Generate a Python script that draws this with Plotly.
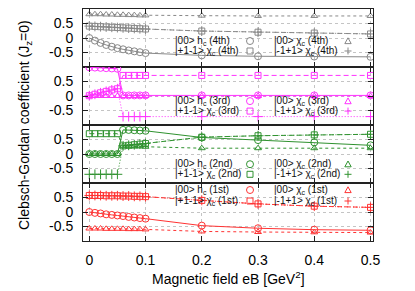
import plotly.graph_objects as go
from plotly.subplots import make_subplots

# ---------------- data ----------------
eB = [0.0, 0.01, 0.02, 0.03, 0.04, 0.05, 0.06, 0.07, 0.08, 0.09, 0.10, 0.2, 0.3, 0.4, 0.5]

# 4th state (grey)
hc00_4 = [0.0, -0.09, -0.17, -0.24, -0.30, -0.35, -0.39, -0.43, -0.46, -0.49, -0.52, -0.60, -0.63, -0.64, -0.65]
pm_4 = [0.41, 0.40, 0.39, 0.38, 0.37, 0.36, 0.35, 0.34, 0.33, 0.32, 0.31, 0.24, 0.20, 0.17, 0.14]
chi00_4 = [0.82, 0.82, 0.82, 0.81, 0.81, 0.80, 0.80, 0.79, 0.79, 0.78, 0.78, 0.77, 0.76, 0.76, 0.76]
mp_4 = [0.41, 0.40, 0.39, 0.38, 0.37, 0.36, 0.35, 0.34, 0.33, 0.32, 0.31, 0.24, 0.20, 0.17, 0.14]

# 3rd state (magenta)
hc00_3 = [0.99, 0.98, 0.97, 0.96, 0.95, 0.94, 0.02, 0.02, 0.02, 0.02, 0.02, 0.02, 0.02, 0.02, 0.02]
pm_3 = [0.01, 0.06, 0.11, 0.16, 0.21, 0.25, 0.71, 0.71, 0.71, 0.71, 0.71, 0.71, 0.71, 0.71, 0.71]
chi00_3 = [0.0, 0.0, 0.0, 0.0, 0.0, 0.0, 0.0, 0.0, 0.0, 0.0, 0.0, 0.0, 0.0, 0.0, 0.0]
mp_3 = [0.01, 0.06, 0.11, 0.16, 0.21, 0.25, -0.71, -0.71, -0.71, -0.71, -0.71, -0.71, -0.71, -0.71, -0.71]

# 2nd state (green)
hc00_2 = [0.0, 0.0, 0.0, 0.0, 0.0, 0.0, 0.83, 0.83, 0.82, 0.81, 0.80, 0.57, 0.48, 0.40, 0.30]
pm_2 = [0.70, 0.70, 0.70, 0.70, 0.70, 0.70, 0.28, 0.30, 0.32, 0.34, 0.36, 0.58, 0.63, 0.66, 0.68]
chi00_2 = [0.0, 0.0, 0.0, 0.0, 0.0, 0.0, 0.27, 0.27, 0.26, 0.26, 0.25, 0.20, 0.20, 0.20, 0.20]
mp_2 = [-0.70, -0.70, -0.70, -0.70, -0.70, -0.70, 0.28, 0.30, 0.32, 0.34, 0.36, 0.58, 0.63, 0.66, 0.68]

# 1st state (red)
hc00_1 = [0.0, -0.03, -0.05, -0.08, -0.10, -0.12, -0.14, -0.17, -0.19, -0.21, -0.23, -0.47, -0.56, -0.61, -0.63]
pm_1 = [0.57, 0.57, 0.57, 0.56, 0.56, 0.56, 0.55, 0.55, 0.54, 0.54, 0.53, 0.40, 0.28, 0.20, 0.16]
chi00_1 = [-0.57, -0.57, -0.57, -0.58, -0.58, -0.58, -0.58, -0.59, -0.59, -0.59, -0.60, -0.67, -0.69, -0.70, -0.71]
mp_1 = [0.57, 0.57, 0.57, 0.56, 0.56, 0.56, 0.55, 0.55, 0.54, 0.54, 0.53, 0.40, 0.28, 0.20, 0.16]

panel_names = ["4th", "3rd", "2nd", "1st"]
panel_series = [
    [hc00_4, pm_4, chi00_4, mp_4],
    [hc00_3, pm_3, chi00_3, mp_3],
    [hc00_2, pm_2, chi00_2, mp_2],
    [hc00_1, pm_1, chi00_1, mp_1],
]
series_labels = ["|00> h<sub>c</sub> ({})", "|+1-1> χ<sub>c</sub> ({})",
                 "|00> χ<sub>c</sub> ({})", "|-1+1> χ<sub>c</sub> ({})"]

x_ticks = [0, 0.1, 0.2, 0.3, 0.4, 0.5]
y_ticks = [-1, -0.5, 0, 0.5, 1]
y_tick_text = ["", "-0.5", "0", "0.5", ""]

# ---------------- styles ----------------
colors = ["#888888", "#ff33ff", "#2f922f", "#ff3333"]
styles = [("circle-open", 7, "solid"),
          ("square-open", 6, "5px,3px"),
          ("triangle-up-open", 6, "3px,3px"),
          ("cross-thin-open", 7, "1px,2px")]
FONT = "Liberation Sans, Arial, Helvetica, sans-serif"

fig = make_subplots(rows=4, cols=1, shared_xaxes=True, vertical_spacing=0)

for r, (series, col) in enumerate(zip(panel_series, colors), start=1):
    for (sym, size, dash), ys in zip(styles, series):
        fig.add_trace(go.Scatter(
            x=eB, y=ys, mode="lines+markers",
            line=dict(color=col, width=1, dash=dash),
            marker=dict(symbol=sym, size=size, color=col,
                        line=dict(color=col, width=1)),
            showlegend=False, hoverinfo="skip"), row=r, col=1)

axis_common = dict(ticks="inside", ticklen=5, tickcolor="#222", mirror="allticks",
                   showline=True, linecolor="#222", linewidth=1,
                   showgrid=True, gridcolor="#c4c4c4", griddash="dot", gridwidth=1,
                   zeroline=False, automargin=False,
                   tickfont=dict(size=14, color="black", family=FONT))

for r in range(1, 5):
    fig.update_xaxes(range=[-0.0112, 0.5044], tickvals=x_ticks,
                     ticktext=[f"{v:g}" for v in x_ticks],
                     showticklabels=(r == 4), ticklabelstandoff=6,
                     row=r, col=1, **axis_common)
    fig.update_yaxes(range=[-1, 1], tickvals=y_ticks, ticktext=y_tick_text,
                     ticklabelstandoff=6, row=r, col=1, **axis_common)

# ---------------- per-panel keys ----------------
key_rows = [(0.862, 0.819), (0.603, 0.560), (0.331, 0.2875), (0.2198, 0.1724)]
text_x = [0.3103, 0.6517]
sym_x = [0.5759, 0.9138]

annotations = []
shapes = []
for p, (name, col, rows) in enumerate(zip(panel_names, colors, key_rows)):
    slots = [(0, 0), (0, 1), (1, 0), (1, 1)]  # (column, row): circle, square, triangle, plus
    for k, (c, rr) in enumerate(slots):
        yy = rows[rr]
        annotations.append(dict(
            x=text_x[c], y=yy, xref="paper", yref="paper",
            xanchor="left", yanchor="middle", showarrow=False,
            text=series_labels[k].format(name),
            font=dict(size=10, color="#111", family=FONT)))
        sx = sym_x[c]
        if k == 0:
            shapes.append(dict(type="circle", xref="paper", yref="paper",
                               xsizemode="pixel", ysizemode="pixel",
                               xanchor=sx, yanchor=yy, x0=-3.5, x1=3.5, y0=-3.5, y1=3.5,
                               line=dict(color=col, width=1)))
        elif k == 1:
            shapes.append(dict(type="rect", xref="paper", yref="paper",
                               xsizemode="pixel", ysizemode="pixel",
                               xanchor=sx, yanchor=yy, x0=-3, x1=3, y0=-3, y1=3,
                               line=dict(color=col, width=1)))
        elif k == 2:
            shapes.append(dict(type="path", xref="paper", yref="paper",
                               xsizemode="pixel", ysizemode="pixel",
                               xanchor=sx, yanchor=yy,
                               path="M -3.2,-2.6 L 3.2,-2.6 L 0,3.2 Z",
                               line=dict(color=col, width=1)))
        else:
            shapes.append(dict(type="path", xref="paper", yref="paper",
                               xsizemode="pixel", ysizemode="pixel",
                               xanchor=sx, yanchor=yy,
                               path="M -3.5,0 L 3.5,0 M 0,-3.5 L 0,3.5",
                               line=dict(color=col, width=1)))

# axis titles
annotations.append(dict(x=0.5, y=-0.159, xref="paper", yref="paper",
                        xanchor="center", yanchor="middle", showarrow=False,
                        text="Magnetic field eB [GeV<sup>2</sup>]",
                        font=dict(size=14, color="black", family=FONT)))
annotations.append(dict(x=-0.2, y=0.5, xref="paper", yref="paper",
                        xanchor="center", yanchor="middle", showarrow=False,
                        textangle=-90,
                        text="Clebsch-Gordan coefficient (J<sub>z</sub>=0)",
                        font=dict(size=14, color="black", family=FONT)))

fig.update_layout(width=415, height=291,
                  margin=dict(l=83, r=42, t=9, b=50),
                  paper_bgcolor="white", plot_bgcolor="white",
                  font=dict(family=FONT, size=14, color="black"),
                  annotations=annotations, shapes=shapes, showlegend=False)

fig.write_html("out.html", config={"displayModeBar": False},
               post_script="document.body.style.margin='0px';document.body.style.padding='0px';")
